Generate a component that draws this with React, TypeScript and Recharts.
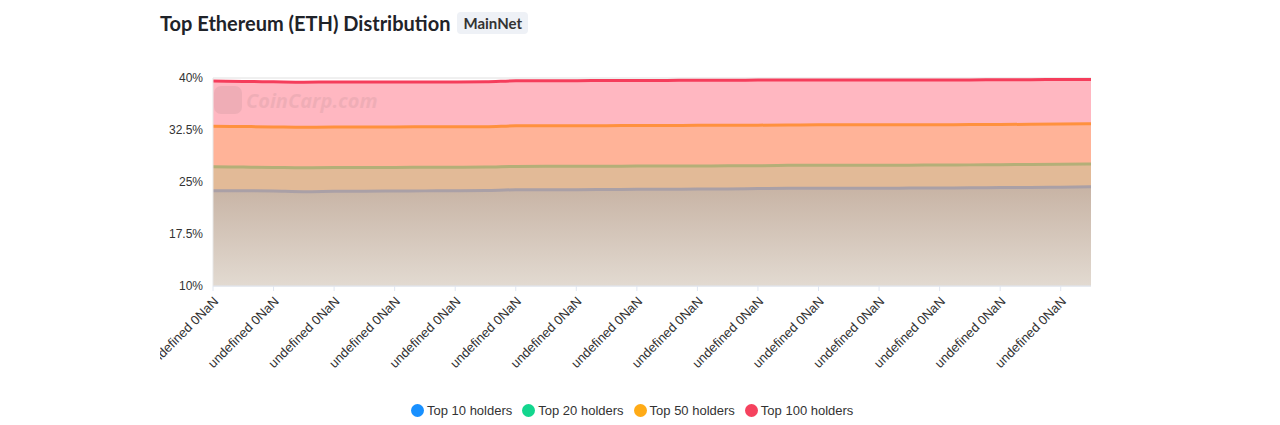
import React from 'react'
import { AreaChart, Area, XAxis, YAxis, CartesianGrid } from 'recharts'

const labels = Array.from({ length: 30 }, () => 'undefined 0NaN')

const top10 = [23.75, 23.75, 23.7, 23.6, 23.65, 23.68, 23.7, 23.72, 23.74, 23.78, 23.88, 23.9, 23.9, 23.92, 23.94, 23.96, 23.98, 24.0, 24.05, 24.1, 24.1, 24.1, 24.1, 24.12, 24.14, 24.16, 24.2, 24.22, 24.26, 24.3]
const top20 = [27.2, 27.15, 27.1, 27.05, 27.08, 27.1, 27.1, 27.12, 27.13, 27.15, 27.25, 27.27, 27.27, 27.28, 27.29, 27.3, 27.32, 27.33, 27.35, 27.4, 27.42, 27.42, 27.42, 27.43, 27.45, 27.47, 27.5, 27.52, 27.55, 27.6]
const top50 = [33.05, 33.0, 32.95, 32.9, 32.92, 32.95, 32.95, 32.96, 32.97, 32.98, 33.1, 33.12, 33.12, 33.13, 33.14, 33.15, 33.17, 33.18, 33.2, 33.22, 33.25, 33.25, 33.24, 33.25, 33.26, 33.28, 33.3, 33.32, 33.35, 33.4]
const top100 = [39.55, 39.5, 39.45, 39.4, 39.42, 39.42, 39.42, 39.43, 39.43, 39.45, 39.6, 39.62, 39.62, 39.63, 39.63, 39.65, 39.67, 39.68, 39.7, 39.72, 39.72, 39.72, 39.7, 39.7, 39.7, 39.72, 39.74, 39.76, 39.78, 39.8]

const yTicks = [10, 17.5, 25, 32.5, 40]

// legend colour, then how the line and the band under it look once layered
const SERIES = [
  { key: 'top10', name: 'Top 10 holders', color: '#1890ff', line: '#aaa0a6', band: ['#c8b4a5', '#e2dad1'] },
  { key: 'top20', name: 'Top 20 holders', color: '#13d68e', line: '#b4af78', band: ['#e2ba97', '#e2ba97'] },
  { key: 'top50', name: 'Top 50 holders', color: '#ffab16', line: '#ff913e', band: ['#ffb398', '#ffb297'] },
  { key: 'top100', name: 'Top 100 holders', color: '#f5425e', line: '#f53d5b', band: ['#ffb7c1', '#ffb7c1'] },
]

const data = labels.map((label, i) => ({
  i,
  label,
  top10: top10[i],
  top20: top20[i],
  top50: top50[i],
  top100: top100[i],
}))

const FONT = '"Liberation Sans", Arial, sans-serif'
const CLIP_LEFT = 160
const PLOT_TOP = 78
const PLOT_BOTTOM = 286

function XTick(props: any) {
  const { x, y, payload } = props
  const ty = y + 6
  return (
    <g>
      <text
        x={x + 3}
        y={ty}
        textAnchor="end"
        dominantBaseline="central"
        transform={`rotate(-45, ${x + 3}, ${ty})`}
        fontSize={13}
        fill="#333"
        fontFamily={FONT}
      >
        {labels[payload.value]}
      </text>
    </g>
  )
}

export default function App() {
  return (
    <div style={{ position: 'absolute', left: 0, top: 0, width: 1280, height: 425, background: '#fff', fontFamily: FONT }}>
      <div style={{ position: 'absolute', left: 160, top: 11, display: 'flex', alignItems: 'center' }}>
        <span style={{ fontFamily: 'Lato, sans-serif', fontWeight: 700, fontSize: 20, color: '#1f2329', lineHeight: '24px' }}>
          Top Ethereum (ETH) Distribution
        </span>
        <span style={{
          marginLeft: 7, background: '#eef1f6', borderRadius: 4, padding: '0 6px', height: 22,
          fontFamily: 'Lato, sans-serif', fontWeight: 700, fontSize: 15, color: '#333', lineHeight: '22px',
        }}>
          MainNet
        </span>
      </div>

      <div style={{ position: 'absolute', left: CLIP_LEFT, top: 0, width: 1280 - CLIP_LEFT, height: 425, overflow: 'hidden' }}>
        <AreaChart
          width={1280 - CLIP_LEFT}
          height={425}
          data={data}
          margin={{ top: PLOT_TOP, right: 189, left: 153 - CLIP_LEFT, bottom: 69 }}
        >
          <defs>
            {SERIES.map(s => (
              <linearGradient key={s.key} id={`g-${s.key}`} gradientUnits="userSpaceOnUse" x1="0" y1={PLOT_TOP} x2="0" y2={PLOT_BOTTOM}>
                <stop offset="53%" stopColor={s.band[0]} />
                <stop offset="100%" stopColor={s.band[1]} />
              </linearGradient>
            ))}
          </defs>
          <CartesianGrid vertical={false} stroke="#e8e8e8" />
          <XAxis
            dataKey="i"
            interval={1}
            height={70}
            tick={<XTick />}
            axisLine={{ stroke: '#e0e6f1' }}
            tickLine={{ stroke: '#e0e6f1' }}
            tickSize={5}
          />
          <YAxis
            domain={[10, 40]}
            ticks={yTicks}
            width={60}
            tickFormatter={(v: number) => `${v}%`}
            tick={{ fontSize: 12, fill: '#333', fontFamily: FONT }}
            axisLine={{ stroke: '#e6e6e6' }}
            tickLine={false}
            tickMargin={4}
          />
          {[...SERIES].reverse().map(s => (
            <Area
              key={`fill-${s.key}`}
              type="monotone"
              dataKey={s.key}
              stroke="none"
              fill={`url(#g-${s.key})`}
              fillOpacity={1}
              baseValue={10}
              dot={false}
              activeDot={false}
              isAnimationActive={false}
            />
          ))}
          <CartesianGrid vertical={false} stroke="rgba(0,0,0,0.035)" />
          {SERIES.map(s => (
            <Area
              key={`line-${s.key}`}
              type="monotone"
              dataKey={s.key}
              name={s.name}
              stroke={s.line}
              strokeWidth={3}
              fill="none"
              baseValue={10}
              dot={false}
              activeDot={false}
              isAnimationActive={false}
            />
          ))}
        </AreaChart>
      </div>

      <div style={{
        position: 'absolute', left: 214, top: 86, display: 'flex', alignItems: 'center',
        pointerEvents: 'none', opacity: 0.09,
      }}>
        <div style={{ width: 28, height: 28, borderRadius: 7, background: '#555' }} />
        <span style={{ marginLeft: 4, fontFamily: '"Open Sans", sans-serif', fontWeight: 700, fontStyle: 'italic', fontSize: 20, color: '#555' }}>
          CoinCarp.com
        </span>
      </div>

      <div style={{ position: 'absolute', left: 411, top: 403, display: 'flex', alignItems: 'center', fontSize: 13, color: '#333' }}>
        {SERIES.map(s => (
          <div key={s.key} style={{ display: 'flex', alignItems: 'center', marginRight: 10 }}>
            <span style={{ width: 13, height: 13, borderRadius: '50%', background: s.color, display: 'inline-block', marginRight: 3 }} />
            <span>{s.name}</span>
          </div>
        ))}
      </div>
    </div>
  )
}
